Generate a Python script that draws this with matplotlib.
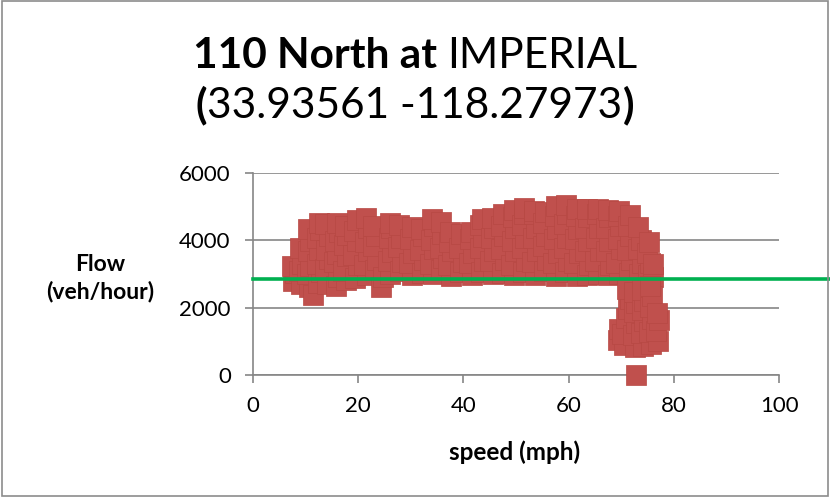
import matplotlib
matplotlib.use('Agg')
import matplotlib.pyplot as plt
from matplotlib.patches import Rectangle

plt.rcParams['font.family'] = ['Lato', 'DejaVu Sans']

# observed points, grouped roughly by speed: speed (mph) and flow (veh/hour)
band_speed = [
    [7.6, 7.9, 7.4],
    [9.1, 8.8, 9.4, 9.0],
    [10.6, 10.2, 10.9, 10.4, 10.8, 10.5],
    [11.4],
    [12.4, 12.9, 12.1, 12.6, 12.2, 12.8, 12.5],
    [14.1, 13.6, 14.5, 13.9, 14.4, 13.7],
    [15.7, 16.2, 15.4, 16.0, 15.5, 16.3, 15.9],
    [17.6, 17.1, 17.9, 17.3, 17.8, 17.4],
    [19.4, 19.9, 19.1, 19.7, 19.2, 19.8],
    [21.6, 21.1, 21.9, 21.3, 21.8, 21.5],
    [23.1, 23.5, 22.8, 23.3, 22.9],
    [24.4, 24.8],
    [26.1, 25.6, 26.4, 25.8, 26.3, 26.0],
    [27.9, 28.4, 27.6, 28.2, 27.8],
    [30.2, 29.7, 30.5, 29.9, 30.3],
    [32.1, 32.6, 31.8, 32.4, 31.9],
    [34.2, 33.7, 34.5, 33.9, 34.4, 34.1],
    [35.7, 36.2, 35.5, 36.0, 35.8],
    [37.6, 37.1, 37.9, 37.3, 37.5],
    [39.4, 39.9, 39.1, 39.6],
    [41.6, 41.1, 41.9, 41.3, 41.5],
    [43.4, 43.9, 43.1, 43.7, 43.2, 43.6],
    [45.6, 45.1, 45.9, 45.3, 45.8, 45.5],
    [47.4, 47.9, 47.1, 47.7, 47.2, 47.6],
    [49.6, 49.1, 49.9, 49.3, 49.8, 49.4, 49.7],
    [51.4, 51.9, 51.1, 51.7, 51.2, 51.6, 51.5],
    [53.6, 53.1, 53.9, 53.3, 53.8, 53.4, 53.5],
    [55.4, 55.9, 55.1, 55.7, 55.2, 55.6],
    [57.6, 57.1, 57.9, 57.3, 57.8, 57.4, 57.6],
    [59.4, 59.9, 59.1, 59.7, 59.2, 59.6, 59.5],
    [61.6, 61.1, 61.9, 61.3, 61.8, 61.4, 61.5],
    [63.4, 63.9, 63.1, 63.7, 63.2, 63.6, 63.5],
    [65.6, 65.1, 65.9, 65.3, 65.8, 65.4, 65.5],
    [67.4, 67.9, 67.1, 67.7, 67.2, 67.6, 67.5],
    [69.6, 69.1, 69.9, 69.3, 69.8, 69.4, 69.5],
    [71.4, 71.9, 71.1, 71.7, 71.2, 71.6],
    [73.4, 73.9, 73.1, 73.7, 73.2],
    [75.1, 75.5, 74.9, 75.3],
    [76.0, 76.1],
]
band_flows = [
    [2780, 3020, 3230],
    [2690, 3080, 3310, 3760],
    [2620, 2990, 3240, 3690, 3980, 4330],
    [2380],
    [2740, 3060, 3290, 3710, 4060, 4320, 4520],
    [2710, 3140, 3460, 3720, 4130, 4480],
    [2640, 2920, 3350, 3580, 3990, 4260, 4520],
    [2830, 3090, 3530, 3870, 4170, 4420],
    [2880, 3280, 3570, 3990, 4270, 4610],
    [2970, 3260, 3690, 3940, 4380, 4660],
    [3110, 3420, 3830, 4120, 4420],
    [2600, 2920],
    [2990, 3380, 3660, 4080, 4360, 4520],
    [3080, 3360, 3790, 4060, 4470],
    [2960, 3330, 3610, 4030, 4390],
    [3020, 3430, 3720, 4140, 4330],
    [2990, 3310, 3740, 4020, 4420, 4620],
    [3120, 3470, 3760, 4180, 4540],
    [2940, 3280, 3690, 3960, 4240],
    [3060, 3370, 3780, 4190],
    [2960, 3330, 3620, 4030, 4260],
    [3070, 3390, 3780, 4090, 4470, 4620],
    [2990, 3380, 3670, 4080, 4380, 4660],
    [3040, 3420, 3730, 4140, 4430, 4790],
    [2960, 3270, 3680, 3980, 4380, 4680, 4910],
    [3070, 3380, 3780, 4070, 4470, 4780, 4960],
    [2980, 3370, 3680, 4080, 4380, 4770, 4880],
    [3090, 3430, 3830, 4120, 4520, 4840],
    [2940, 3320, 3630, 4040, 4330, 4720, 5010],
    [3060, 3380, 3780, 4080, 4480, 4790, 5060],
    [2930, 3330, 3620, 4030, 4330, 4730, 4940],
    [2970, 3280, 3680, 3980, 4370, 4680, 4920],
    [2990, 3380, 3670, 4080, 4380, 4770, 4940],
    [2960, 3270, 3680, 3970, 4370, 4680, 4890],
    [3010, 3330, 3730, 4030, 4420, 4730, 4880],
    [3040, 3420, 3720, 4130, 4430, 4740],
    [3010, 3330, 3730, 4020, 4390],
    [2960, 3320, 3620, 3960],
    [2900, 3310],
]

# the congested tail near 70-77 mph, plus the lone zero-flow reading
tail_speed = [
    [69.3, 69.6],
    [70.6, 70.2, 70.9],
    [71.3, 71.7, 71.1],
    [72.6, 72.2, 72.9, 72.4, 72.8, 72.5],
    [74.1, 73.7, 74.4, 73.9, 74.3, 74.0],
    [75.6, 75.2, 75.9, 75.4, 75.8, 75.5],
    [77.0, 76.7, 77.1, 76.8],
    [72.8],
]
tail_flows = [
    [1030, 1380],
    [880, 1210, 1680],
    [1960, 2270, 2540],
    [840, 1180, 1530, 1870, 2140, 2470],
    [860, 1260, 1590, 1920, 2210, 2520],
    [930, 1290, 1660, 2020, 2340, 2650],
    [1010, 1320, 1620, 1830],
    [0],
]

capacity = 2850
x_ticks = [0, 20, 40, 60, 80, 100]
y_ticks = [0, 2000, 4000, 6000]

xs, ys = [], []
for sps, fls in zip(band_speed + tail_speed, band_flows + tail_flows):
    xs.extend(sps)
    ys.extend(fls)

fig = plt.figure(figsize=(8.3, 4.97), dpi=100)
ax = fig.add_axes([0.3048, 0.2455, 0.6338, 0.4064])

ax.scatter(xs, ys, marker='s', s=207, c='#C0504D', edgecolors='#B74843',
           linewidths=0.5, zorder=3, clip_on=False)
ax.plot([0, 109.6], [capacity, capacity], color='#00B050', lw=2.6,
        clip_on=False, zorder=4)

ax.set_xlim(0, 100)
ax.set_ylim(0, 6000)
ax.set_xticks(x_ticks)
ax.set_yticks(y_ticks)
ax.grid(axis='y', color='#868686', lw=1.2)
ax.set_axisbelow(True)
for side in ['top', 'right']:
    ax.spines[side].set_visible(False)
for side in ['left', 'bottom']:
    ax.spines[side].set_color('#868686')
    ax.spines[side].set_linewidth(1.2)
ax.tick_params(direction='out', length=6, width=1.2, color='#868686',
               labelsize=16, labelcolor='black')
ax.tick_params(axis='x', pad=9)
ax.tick_params(axis='y', pad=10)

fig.text(100 / 830, 1 - 278 / 497, 'Flow\n(veh/hour)', ha='center', va='center',
         fontsize=16.5, fontweight='bold', linespacing=1.3)
fig.text(515 / 830, 1 - 452 / 497, 'speed (mph)', ha='center', va='center',
         fontsize=17.5, fontweight='bold')

# two-line title with mixed weights
r = fig.canvas.get_renderer()
title_size = 30.5
gap = 0.23 * title_size * 100 / 72
lines = [(68, [('110 North at', 'bold'), ('IMPERIAL', 'normal')], [gap]),
         (118, [('(', 'bold'), ('33.93561 -118.27973', 'normal'), (')', 'bold')], [0, 0])]
for base, parts, gaps in lines:
    texts = [fig.text(0, 1 - base / 497, s, fontsize=title_size, fontweight=w,
                      va='baseline', ha='left') for s, w in parts]
    widths = [t.get_window_extent(r).width for t in texts]
    total = sum(widths) + sum(gaps)
    x = (fig.bbox.width - total) / 2
    for i, t in enumerate(texts):
        t.set_x(x / fig.bbox.width)
        x += widths[i] + (gaps[i] if i < len(gaps) else 0)

fig.patches.append(Rectangle((0.002, 0.003), 0.995, 0.994, transform=fig.transFigure,
                             fill=False, ec='#8c8c8c', lw=1.2))

fig.savefig('out.png', dpi=100)
